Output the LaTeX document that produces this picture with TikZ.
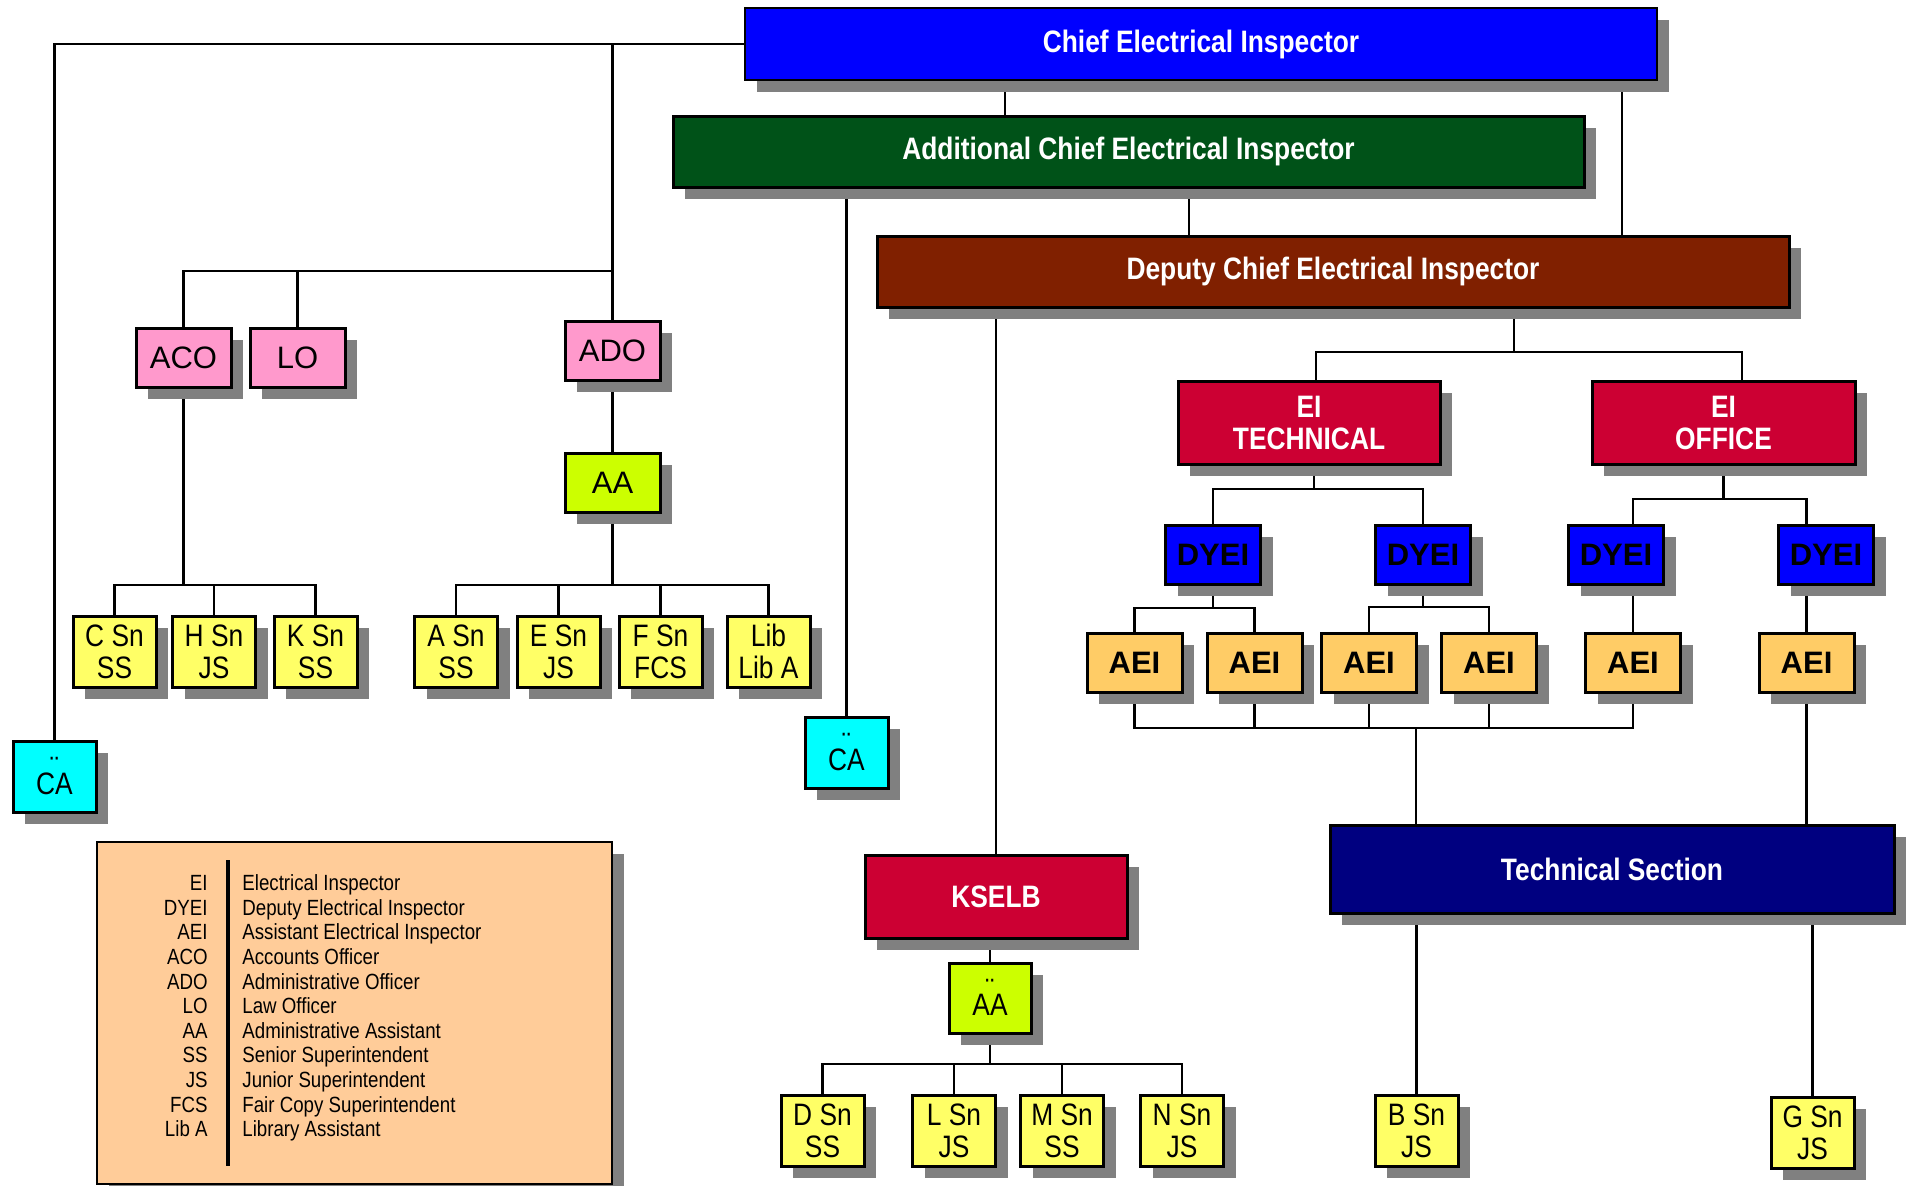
\documentclass[tikz,border=0pt]{standalone}
\usepackage{fontspec}
\setmainfont{Liberation Sans}
\newfontfamily\narrowsf{Liberation Sans}[FakeStretch=0.85]
\usetikzlibrary{shadows,backgrounds}
\definecolor{shade}{RGB}{128,128,128}
\definecolor{chiefblue}{RGB}{0,0,255}
\definecolor{addlgreen}{RGB}{0,82,24}
\definecolor{deputybrown}{RGB}{128,32,0}
\definecolor{eired}{RGB}{204,0,51}
\definecolor{aeiorange}{RGB}{255,204,102}
\definecolor{snyellow}{RGB}{255,255,102}
\definecolor{aalime}{RGB}{204,255,0}
\definecolor{offpink}{RGB}{255,153,204}
\definecolor{cacyan}{RGB}{0,255,255}
\definecolor{technavy}{RGB}{0,0,128}
\definecolor{legendtan}{RGB}{255,204,153}
\newcommand\dotsover[1]{\ooalign{#1\cr\hidewidth\raisebox{0.49em}{¨}\hidewidth\cr}}
\tikzset{
	orgbox/.style={draw=black, line width=1.5pt, inner sep=0pt, align=center,
			drop shadow={shadow xshift=6pt, shadow yshift=-6pt, fill=shade, opacity=1}},
	titlebox/.style={orgbox, text=white, font=\narrowsf\bfseries\fontsize{15.5}{16}\selectfont},
	officebox/.style={orgbox, fill=offpink, minimum width=47.5pt, minimum height=29.5pt,
			font=\fontsize{15.5}{16}\selectfont},
	inspbox/.style={orgbox, minimum width=47.5pt, minimum height=29.5pt,
			font=\bfseries\fontsize{15.5}{16}\selectfont},
	snbox/.style={orgbox, fill=snyellow, minimum width=41.5pt, minimum height=35.5pt,
			font=\narrowsf\fontsize{15.5}{16}\selectfont},
	dotbox/.style={snbox, text height=17.6pt, text depth=0pt},
	cabox/.style={dotbox, fill=cacyan},
	legendtext/.style={inner sep=0pt, font=\narrowsf\fontsize{11}{12}\selectfont},
	link/.style={line width=1.25pt}
}

\begin{document}
\begin{tikzpicture}[x=0.5pt, y=-0.5pt]
	\useasboundingbox (0,0) rectangle (1909,1185);
	% top of the chart
	\node[titlebox, fill=chiefblue, line width=0.8pt, minimum width=456pt, minimum height=36pt] (chief) at (1201,44) {Chief Electrical Inspector};
	\node[titlebox, fill=addlgreen, minimum width=455.5pt, minimum height=35.5pt] (addl) at (1128.5,151.5) {Additional Chief Electrical Inspector};
	\node[titlebox, fill=deputybrown, minimum width=456pt, minimum height=35.5pt] (deputy) at (1333,271.5) {Deputy Chief Electrical Inspector};
	% office wing
	\node[officebox] (aco) at (183.5,357.5) {ACO};
	\node[officebox] (lo) at (297.5,357.5) {LO};
	\node[officebox] (ado) at (612.5,350.5) {ADO};
	\node[officebox, fill=aalime] (aa) at (612.5,482.5) {AA};
	\node[snbox] (csn) at (114.5,651.5) {C Sn\\SS};
	\node[snbox] (hsn) at (214,651.5) {H Sn\\JS};
	\node[snbox] (ksn) at (315.5,651.5) {K Sn\\SS};
	\node[snbox] (asn) at (456,651.5) {A Sn\\SS};
	\node[snbox] (esn) at (558.5,651.5) {E Sn\\JS};
	\node[snbox] (fsn) at (660.5,651.5) {F Sn\\FCS};
	\node[snbox] (lib) at (768.5,651.5) {Lib\\Lib A};
	\node[cabox] (ca1) at (54.5,776.5) {\dotsover{CA}};
	\node[cabox] (ca2) at (846.5,752.5) {\dotsover{CA}};
	% inspection wing
	\node[titlebox, fill=eired, minimum width=131pt, minimum height=41.5pt] (eitech) at (1309,422.5) {EI\\TECHNICAL};
	\node[titlebox, fill=eired, minimum width=131.5pt, minimum height=41.5pt] (eioffice) at (1723.5,422.5) {EI\\OFFICE};
	\node[inspbox, fill=chiefblue] (dyei1) at (1213,554.5) {DYEI};
	\node[inspbox, fill=chiefblue] (dyei2) at (1423,554.5) {DYEI};
	\node[inspbox, fill=chiefblue] (dyei3) at (1616,554.5) {DYEI};
	\node[inspbox, fill=chiefblue] (dyei4) at (1826,554.5) {DYEI};
	\node[inspbox, fill=aeiorange] (aei1) at (1134.5,662.5) {AEI};
	\node[inspbox, fill=aeiorange] (aei2) at (1254.5,662.5) {AEI};
	\node[inspbox, fill=aeiorange] (aei3) at (1369,662.5) {AEI};
	\node[inspbox, fill=aeiorange] (aei4) at (1489,662.5) {AEI};
	\node[inspbox, fill=aeiorange] (aei5) at (1633,662.5) {AEI};
	\node[inspbox, fill=aeiorange] (aei6) at (1806.5,662.5) {AEI};
	\node[titlebox, fill=technavy, minimum width=282pt, minimum height=44pt] (tech) at (1612,869) {Technical Section};
	\node[snbox] (bsn) at (1416.5,1130.5) {B Sn\\JS};
	\node[snbox] (gsn) at (1812.5,1132.5) {G Sn\\JS};
	% board
	\node[titlebox, fill=eired, minimum width=131pt, minimum height=41.5pt] (kselb) at (996,896.5) {KSELB};
	\node[dotbox, fill=aalime, minimum width=41pt, minimum height=35pt] (aa2) at (990,998) {\dotsover{AA}};
	\node[snbox] (dsn) at (822.5,1130.5) {D Sn\\SS};
	\node[snbox] (lsn) at (954,1130.5) {L Sn\\JS};
	\node[snbox] (msn) at (1062,1130.5) {M Sn\\SS};
	\node[snbox] (nsn) at (1182,1130.5) {N Sn\\JS};
	% legend
	\node[orgbox, fill=legendtan, line width=0.6pt, minimum width=257.5pt, minimum height=171pt] (legend) at (354.5,1013) {};
	\draw[line width=2pt] (228,860) -- (228,1166);
	\foreach \abbr/\full [count=\i] in {EI/Electrical Inspector, DYEI/Deputy Electrical Inspector,
			AEI/Assistant Electrical Inspector, ACO/Accounts Officer, ADO/Administrative Officer,
			LO/Law Officer, AA/Administrative Assistant, SS/Senior Superintendent,
			JS/Junior Superintendent, FCS/Fair Copy Superintendent, Lib A/Library Assistant}{
		\node[legendtext, anchor=base east] (abbr\i) at (208,866+24.6*\i) {\abbr};
		\node[legendtext, anchor=base west] (full\i) at (242,866+24.6*\i) {\full};
	}
	% connectors
	\begin{scope}[on background layer]
		\draw[link] (chief.west) -| (ca1.north);
		\draw[link] (ado.north) -- (ado.north |- chief.west);
		\draw[link] (aco.north) |- (ado.north |- 0,271);
		\draw[link] (lo.north) -- (lo.north |- 0,271);
		\draw[link] (ado) -- (aa);
		\draw[link] (aco.south) -- (aco.south |- 0,585);
		\draw[link] (csn.north) |- (ksn.north |- 0,585) -- (ksn.north);
		\draw[link] (hsn.north) -- (hsn.north |- 0,585);
		\draw[link] (aa.south) -- (aa.south |- 0,585);
		\draw[link] (asn.north) |- (lib.north |- 0,585) -- (lib.north);
		\draw[link] (esn.north) -- (esn.north |- 0,585);
		\draw[link] (fsn.north) -- (fsn.north |- 0,585);
		\draw[link] (1005,0 |- chief.south) -- (1005,0 |- addl.north);
		\draw[link] (1622,0 |- chief.south) -- (1622,0 |- deputy.north);
		\draw[link] (1189,0 |- addl.south) -- (1189,0 |- deputy.north);
		\draw[link] (ca2.north) -- (ca2.north |- addl.south);
		\draw[link] (kselb.north) -- (kselb.north |- deputy.south);
		\draw[link] (1514,0 |- deputy.south) -- (1514,352);
		\draw[link] (1316,0 |- eitech.north) |- (1742,352) -- (1742,0 |- eioffice.north);
		\draw[link] (1314,0 |- eitech.south) -- (1314,489);
		\draw[link] (dyei1.north) |- (dyei2.north |- 0,489) -- (dyei2.north);
		\draw[link] (eioffice.south) -- (eioffice.south |- 0,499);
		\draw[link] (aei5.north |- dyei3.north) |- (aei6.north |- 0,499) -- (aei6.north |- dyei4.north);
		\draw[link] (dyei1.south) -- (dyei1.south |- 0,608);
		\draw[link] (aei1.north) |- (aei2.north |- 0,608) -- (aei2.north);
		\draw[link] (dyei2.south) -- (dyei2.south |- 0,607);
		\draw[link] (aei3.north) |- (aei4.north |- 0,607) -- (aei4.north);
		\draw[link] (aei5.north) -- (aei5.north |- dyei3.south);
		\draw[link] (aei6.north) -- (aei6.north |- dyei4.south);
		\draw[link] (aei1.south) |- (aei5.south |- 0,728) -- (aei5.south);
		\draw[link] (aei2.south) -- (aei2.south |- 0,728);
		\draw[link] (aei3.south) -- (aei3.south |- 0,728);
		\draw[link] (aei4.south) -- (aei4.south |- 0,728);
		\draw[link] (1416,728) -- (1416,0 |- tech.north);
		\draw[link] (aei6.south) -- (aei6.south |- tech.north);
		\draw[link] (bsn.north) -- (bsn.north |- tech.south);
		\draw[link] (gsn.north) -- (gsn.north |- tech.south);
		\draw[link] (aa2.north) -- (aa2.north |- kselb.south);
		\draw[link] (aa2.south) -- (aa2.south |- 0,1064);
		\draw[link] (dsn.north) |- (nsn.north |- 0,1064) -- (nsn.north);
		\draw[link] (lsn.north) -- (lsn.north |- 0,1064);
		\draw[link] (msn.north) -- (msn.north |- 0,1064);
	\end{scope}
\end{tikzpicture}
\end{document}
